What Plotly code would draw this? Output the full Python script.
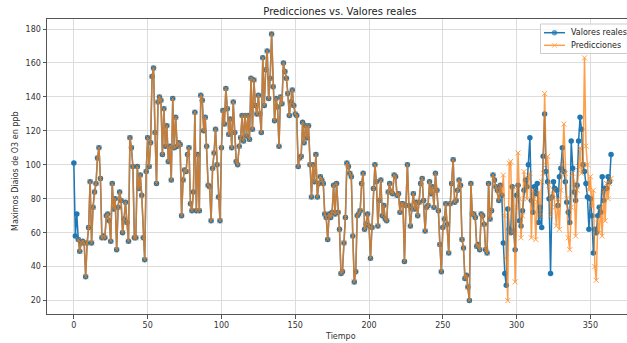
import plotly.graph_objects as go

# Daily maximum ozone (ppb), observed values, day 0..364
valores_reales = [
    101, 58, 71, 56, 49, 54, 55, 54, 34, 54, 63, 90, 54, 75, 84, 89, 104, 110, 92, 57,
    58, 57, 70, 71, 67, 55, 89, 74, 80, 50, 75, 84, 79, 60, 68, 78, 66, 55, 116, 110,
    99, 57, 57, 99, 86,
    94, 82, 57, 44, 96, 116, 99, 113, 152, 157, 119, 89, 137, 140, 138, 106, 133, 111, 123, 102,
    111, 91, 139, 110, 128, 111, 113, 112, 70, 91, 97, 96, 106, 110, 77, 73, 84, 131, 73, 106,
    73, 141, 138, 120, 128, 111, 88,
    87, 67, 98, 107, 121, 100, 81, 67, 110, 132, 124, 145, 133, 118, 127, 110, 137, 119, 102, 100,
    111, 116, 129, 114, 129, 117, 129, 115, 151, 121, 150, 135, 130, 141, 130, 119, 163, 135, 156, 167,
    139, 151, 177, 146, 126, 139, 134,
    111, 140, 136, 160, 155, 151, 142, 129, 137, 144, 135, 130, 129, 99, 104, 105, 125, 113, 123, 116,
    123, 100, 81, 100, 90, 106, 81, 89, 93, 91, 89, 71, 69, 56, 71, 69, 72, 88, 71, 89,
    72, 62, 36, 37, 54, 69, 101,
    99, 95, 93, 58, 31, 37, 70, 71, 73, 89, 95, 62, 65, 71, 64, 45, 63, 86, 100, 90,
    64, 79, 91, 70, 76, 68, 67, 84, 89, 84, 83, 94, 93, 82, 83, 72, 77, 77, 43, 76,
    100, 76, 64, 74, 83, 74, 78,
    70, 78, 89, 92, 79, 61, 75, 76, 90, 83, 87, 75, 95, 85, 73, 53, 37, 63, 68, 77,
    65, 48, 77, 89, 103, 78, 79, 85, 91, 88, 56, 51, 33, 35, 28, 20, 89, 71, 71, 69,
    52, 53, 50, 71, 70, 65, 50, 48,
    89, 68, 73, 94, 91, 87, 85, 79, 88,
    82, 54, 36, 29, 74, 62, 60, 87, 61, 50, 82, 88, 67, 64, 73, 85, 91, 87, 100, 116,
    79, 72, 87, 83, 89, 66, 75, 63, 105, 130, 96, 90, 80, 36, 81, 90, 86, 85, 76, 93,
    98, 110, 96, 90, 78, 72, 66, 114, 98, 84, 79, 88, 114, 128, 121, 100, 96, 89, 81, 62,
    80, 70, 48, 62, 60, 70, 75, 72, 93, 79, 86, 86, 93, 90, 106,
]

# Model output: no prediction for the first 3 lag days, in-sample fit
# coincides with the observations up to day 289, then out-of-sample forecast.
inicio_pred = 3
fin_ajuste = 290
pronostico = [
    82, 94, 70, 45, 20, 101, 102, 60, 87, 31, 75, 107, 80, 57, 70, 96, 88, 80, 92, 95,
    57, 85, 80, 56, 78, 84, 70, 90, 95, 142, 100, 105, 88, 70, 81, 85, 75, 64, 80, 62,
    85, 100, 124, 95, 80, 57, 50, 75, 95, 89, 58, 85, 99, 110, 95, 100, 163, 111, 100, 85,
    93, 75, 85, 40, 32, 68, 60, 75, 58, 85, 67, 89, 80, 89, 92,
]
predicciones = [None] * inicio_pred + valores_reales[inicio_pred:fin_ajuste] + pronostico

tiempo = list(range(len(valores_reales)))

AZUL = "#1f77b4"
NARANJA = "#ff7f0e"
FONT = "DejaVu Sans"
OPAC_PRED = 0.75

series = [
    dict(name="Valores reales", y=valores_reales, color=AZUL, symbol="circle", size=5.5, opacity=1.0),
    dict(name="Predicciones", y=predicciones, color=NARANJA, symbol="x-thin", size=5, opacity=OPAC_PRED),
]

fig = go.Figure()
for s in series:
    fig.add_trace(go.Scatter(
        x=tiempo, y=s["y"], mode="lines+markers", name=s["name"],
        line=dict(color=s["color"], width=1.5),
        marker=dict(symbol=s["symbol"], size=s["size"], color=s["color"],
                    line=dict(color=s["color"], width=1 if s["symbol"] == "x-thin" else 0)),
        opacity=s["opacity"], showlegend=False,
    ))

# Compact legend in the upper-right corner, drawn on an overlay axis
# measured in pixels of the plotting area (it sits above the data).
PLOT_L, PLOT_R, PLOT_T, PLOT_B = 47, 627, 19, 314
leg_x0, leg_x1, leg_y0, leg_y1 = 540.5, PLOT_R + 20, 24, 53.5
leg_line = (544, 565)
leg_rows = [32.7, 45.3]

# legend frame: semi-opaque white box with a light border
fig.add_trace(go.Scatter(
    x=[leg_x0, leg_x1, leg_x1, leg_x0, leg_x0],
    y=[leg_y0, leg_y0, leg_y1, leg_y1, leg_y0],
    xaxis="x2", yaxis="y2", mode="lines", fill="toself",
    fillcolor="rgba(255,255,255,0.8)", line=dict(color="#cccccc", width=1),
    showlegend=False, hoverinfo="skip",
))

for s, yrow in zip(series, leg_rows):
    xm = (leg_line[0] + leg_line[1]) / 2
    fig.add_trace(go.Scatter(
        x=[leg_line[0], xm, leg_line[1]], y=[yrow] * 3,
        xaxis="x2", yaxis="y2", mode="lines+markers",
        line=dict(color=s["color"], width=1.5),
        marker=dict(symbol=s["symbol"], size=[0, s["size"], 0], color=s["color"],
                    line=dict(color=s["color"], width=1 if s["symbol"] == "x-thin" else 0)),
        opacity=s["opacity"], showlegend=False, hoverinfo="skip",
    ))

axis_common = dict(
    showgrid=True, gridcolor="#dcdcdc", gridwidth=1,
    showline=True, linecolor="#555555", linewidth=1, mirror=True,
    ticks="outside", ticklen=3.5, tickwidth=1, tickcolor="#555555",
    tickfont=dict(family=FONT, size=8, color="#333333"),
    zeroline=False,
)

annotations = [
    dict(text="Tiempo", xref="paper", yref="paper", x=(340 - 47) / 580, y=(314 - 336) / 295,
         xanchor="center", yanchor="middle", showarrow=False,
         font=dict(family=FONT, size=8, color="#333333")),
    dict(text="Maximos Diaios de O3 en ppb", xref="paper", yref="paper",
         x=(15 - 47) / 580, y=(314 - 171) / 295, textangle=-90,
         xanchor="center", yanchor="middle", showarrow=False,
         font=dict(family=FONT, size=8, color="#333333")),
]
for s, yrow in zip(series, leg_rows):
    annotations.append(dict(
        text=s["name"], xref="x2", yref="y2", x=568.5, y=yrow,
        xanchor="left", yanchor="middle", showarrow=False,
        font=dict(family=FONT, size=8, color="#222222"),
    ))

fig.update_layout(
    width=627, height=343,
    margin=dict(l=PLOT_L, r=627 - PLOT_R, t=PLOT_T, b=343 - PLOT_B, autoexpand=False),
    paper_bgcolor="white", plot_bgcolor="white",
    font=dict(family=FONT, size=8, color="#333333"),
    title=dict(
        text="Predicciones vs. Valores reales",
        font=dict(family=FONT, size=10, color="#222222"),
        xref="paper", x=0.505, xanchor="center",
        yref="container", y=1 - 11 / 343, yanchor="middle",
    ),
    xaxis=dict(range=[-18.2, 374.8], tickvals=[0, 50, 100, 150, 200, 250, 300, 350], **axis_common),
    yaxis=dict(range=[12.1, 185.9], tickvals=[20, 40, 60, 80, 100, 120, 140, 160, 180], **axis_common),
    xaxis2=dict(range=[PLOT_L, PLOT_R], overlaying="x", visible=False, fixedrange=True),
    yaxis2=dict(range=[PLOT_B, PLOT_T], overlaying="y", visible=False, fixedrange=True),
    annotations=annotations,
    showlegend=False,
)

fig.write_html("out.html")
